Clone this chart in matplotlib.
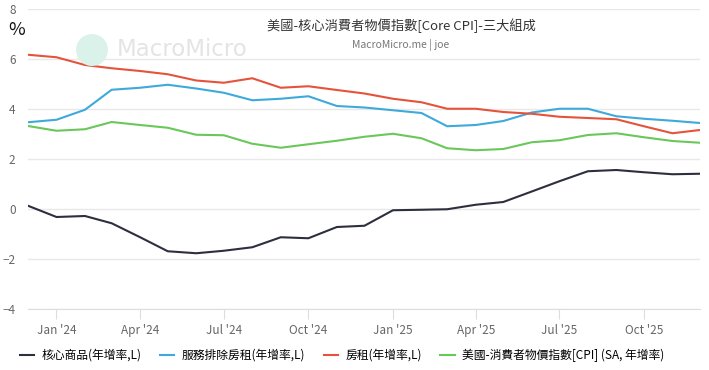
import numpy as np
import pandas as pd
import matplotlib
matplotlib.use('Agg')
import matplotlib.pyplot as plt
import matplotlib.dates as mdates
from matplotlib.patches import Circle

plt.rcParams['font.family'] = ['Noto Sans CJK TC', 'DejaVu Sans']

# monthly points, Dec 2023 .. Dec 2025
dates = pd.date_range('2023-12-01', periods=25, freq='MS')

core_goods = [0.13, -0.32, -0.28, -0.57, -1.13, -1.69, -1.77, -1.67, -1.53, -1.13, -1.17, -0.72, -0.67,
              -0.05, -0.03, -0.01, 0.17, 0.28, 0.70, 1.11, 1.51, 1.56, 1.47, 1.39, 1.41]
services_ex_rent = [3.47, 3.57, 3.97, 4.77, 4.85, 4.97, 4.82, 4.65, 4.35, 4.41, 4.51, 4.12, 4.06,
                    3.95, 3.84, 3.31, 3.36, 3.52, 3.86, 4.01, 4.01, 3.71, 3.61, 3.53, 3.44]
shelter = [6.17, 6.07, 5.76, 5.63, 5.52, 5.39, 5.14, 5.05, 5.23, 4.85, 4.91, 4.76, 4.62,
           4.41, 4.27, 4.01, 4.01, 3.88, 3.81, 3.69, 3.64, 3.59, 3.31, 3.03, 3.16]
cpi = [3.32, 3.13, 3.19, 3.48, 3.36, 3.25, 2.97, 2.95, 2.61, 2.45, 2.59, 2.73, 2.89,
       3.01, 2.83, 2.43, 2.35, 2.40, 2.67, 2.75, 2.96, 3.03, 2.87, 2.72, 2.65]

labels = ['核心商品(年增率,L)', '服務排除房租(年增率,L)', '房租(年增率,L)',
          '美國-消費者物價指數[CPI] (SA, 年增率)']
colors = ['#2d2f3e', '#3ea9db', '#e5533b', '#6ac75a']

fig = plt.figure(figsize=(7.09, 3.70), dpi=100)
ax = fig.add_axes([28 / 709, 61 / 370, 672 / 709, 300 / 370])

# watermark (circle in inches so it stays round)
fig.patches.append(Circle((0.92, 3.70 - 0.50), 0.16, transform=fig.dpi_scale_trans,
                          facecolor='#daf2e9', edgecolor='none', zorder=0))
fig.text(117 / 709, 1 - 50 / 370, 'MacroMicro', fontsize=16.5, color='#e4e4e4',
         va='center', ha='left', family='DejaVu Sans', zorder=0)

for series, lab, col in zip([core_goods, services_ex_rent, shelter, cpi], labels, colors):
    ax.plot(dates, series, color=col, lw=1.5, label=lab, zorder=3)

ax.set_ylim(-4, 8)
ax.set_yticks(np.arange(-4, 9, 2))
ax.set_xlim(dates[0], dates[-1])
ax.xaxis.set_major_locator(mdates.MonthLocator(bymonth=[1, 4, 7, 10]))
ax.xaxis.set_major_formatter(mdates.DateFormatter("%b '%y"))

ax.grid(axis='y', color='#e8e8e8', lw=1)
ax.set_axisbelow(True)
for s in ['top', 'right', 'left']:
    ax.spines[s].set_visible(False)
ax.spines['bottom'].set_color('#dddddd')
ax.tick_params(axis='x', colors='#dddddd', length=7, labelcolor='#666666', labelsize=8.5, pad=4)
ax.tick_params(axis='y', length=0, labelcolor='#666666', labelsize=8.5, pad=9)
ax.patch.set_alpha(0)

fig.text(17 / 709, 1 - 30 / 370, '%', fontsize=13, color='#111111', ha='center', va='center')
fig.text(401 / 709, 1 - 26 / 370, '美國-核心消費者物價指數[Core CPI]-三大組成',
         fontsize=9.5, color='#333333', ha='center', va='center')
fig.text(401 / 709, 1 - 45 / 370, 'MacroMicro.me | joe', fontsize=7.5, color='#777777',
         ha='center', va='center')

fig.legend(loc='center', bbox_to_anchor=(342 / 709, 1 - 355 / 370), ncol=4, frameon=False,
           fontsize=8.5, handlelength=1.2, handletextpad=0.6, columnspacing=1.6)

fig.savefig('out.png', dpi=100)
